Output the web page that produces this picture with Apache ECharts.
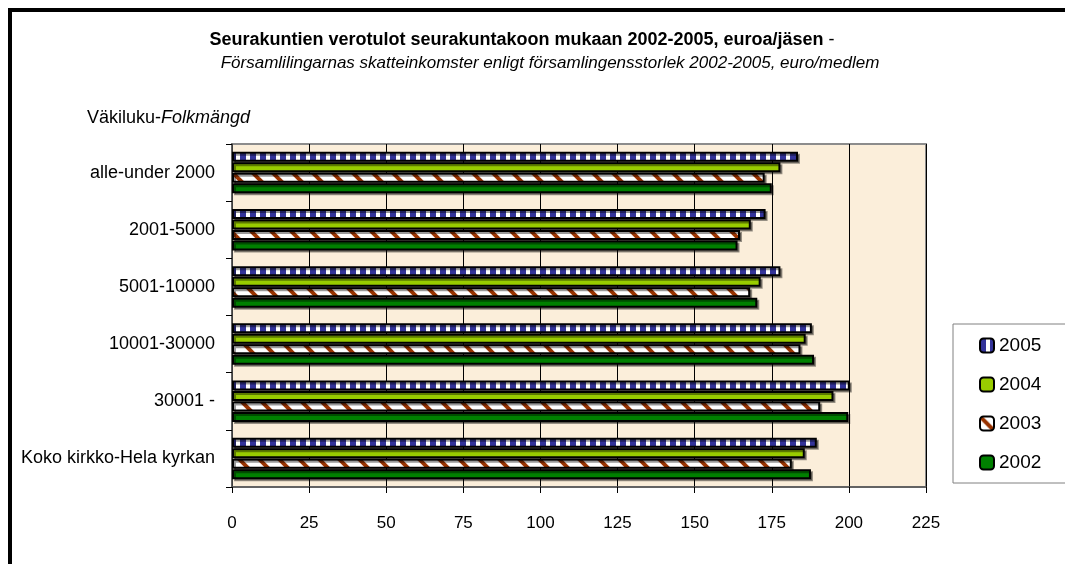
<!DOCTYPE html>
<html>
<head>
<meta charset="utf-8">
<script src="https://cdn.jsdelivr.net/npm/echarts@6/dist/echarts.min.js"></script>
<style>
  html, body { margin: 0; padding: 0; background: #fff; }
  #chart { width: 1065px; height: 564px; }
</style>
</head>
<body>
<div id="chart"></div>
<script>
const categories = ['alle-under 2000', '2001-5000', '5001-10000', '10001-30000', '30001 -', 'Koko kirkko-Hela kyrkan'];
const years = ['2005', '2004', '2003', '2002'];
const v2005 = [183.5, 173, 177.8, 188, 200.3, 189.6];
const v2004 = [177.8, 168.2, 171.4, 186, 195, 185.7];
const v2003 = [172.7, 164.7, 168, 184.3, 190.7, 181.5];
const v2002 = [175, 163.9, 170.3, 188.7, 199.8, 187.7];
const xTicks = { min: 0, max: 225, step: 25 };

// fill patterns like the old excel ones
const bluePattern = () => {
	const c = document.createElement('canvas');
	c.width = 10; c.height = 10;
	const g = c.getContext('2d');
	g.fillStyle = '#ffffff';
	g.fillRect(0, 0, 10, 10);
	g.fillStyle = '#333399';
	g.fillRect(0, 0, 6, 10);
	return c;
};

const brownPattern = () => {
	const c = document.createElement('canvas');
	c.width = 20; c.height = 20;
	const g = c.getContext('2d');
	g.fillStyle = '#ffffff';
	g.fillRect(0, 0, 20, 20);
	g.strokeStyle = '#993300';
	g.lineWidth = 4;
	for (let k = -1; k <= 1; k++) {
		g.beginPath();
		g.moveTo(k * 20 - 5, -5);
		g.lineTo(k * 20 + 25, 25);
		g.stroke();
	}
	return c;
};

const fills = [
	{ image: bluePattern(), repeat: 'repeat' },
	'#99cc00',
	{ image: brownPattern(), repeat: 'repeat' },
	'#008000',
];
const values = [v2005, v2004, v2003, v2002];

const chart = echarts.init(document.getElementById('chart'));

const font = 'Liberation Sans';

const option = {
	backgroundColor: '#ffffff',
	textStyle: { fontFamily: font },
	graphic: [
		{
			type: 'rect',
			shape: { x: 10, y: 10, width: 1200, height: 1000 },
			style: { fill: 'none', stroke: '#000', lineWidth: 4 },
			silent: true,
		},
		{
			type: 'text',
			x: 522,
			y: 40,
			style: {
				text: '{b|Seurakuntien verotulot seurakuntakoon mukaan 2002-2005, euroa/jäsen} -',
				font: '18px ' + font,
				fill: '#000',
				align: 'center',
				verticalAlign: 'middle',
				rich: { b: { fontWeight: 'bold', fontSize: 18, fontFamily: font } },
			},
		},
		{
			type: 'text',
			x: 550,
			y: 63,
			style: {
				text: 'Församlilingarnas skatteinkomster enligt församlingensstorlek 2002-2005, euro/medlem',
				font: 'italic 17px ' + font,
				fill: '#000',
				align: 'center',
				verticalAlign: 'middle',
			},
		},
		{
			type: 'text',
			x: 87,
			y: 118,
			style: {
				text: 'Väkiluku-{i|Folkmängd}',
				font: '18px ' + font,
				fill: '#000',
				verticalAlign: 'middle',
				rich: { i: { fontStyle: 'italic', fontSize: 18, fontFamily: font } },
			},
		},
	],
	legend: {
		data: years,
		orient: 'vertical',
		left: 953,
		top: 324,
		width: 150,
		padding: [12, 40, 11, 26],
		itemGap: 20,
		itemWidth: 14,
		itemHeight: 14,
		backgroundColor: '#ffffff',
		borderColor: '#808080',
		borderWidth: 1,
		borderRadius: 0,
		textStyle: { fontSize: 19, color: '#000', fontFamily: font },
	},
	grid: {
		left: 232,
		top: 144,
		width: 694,
		height: 343,
		show: true,
		backgroundColor: '#fbeeda',
		borderColor: '#8c8c8c',
		borderWidth: 2,
	},
	xAxis: {
		type: 'value',
		min: xTicks.min,
		max: xTicks.max,
		interval: xTicks.step,
		axisLine: { show: true, lineStyle: { color: '#555', width: 1.5 } },
		axisTick: { show: true, length: 6, lineStyle: { color: '#000' } },
		axisLabel: { fontSize: 17, color: '#000', margin: 28 },
		splitLine: { show: true, lineStyle: { color: '#000', width: 1 } },
	},
	yAxis: {
		type: 'category',
		data: categories,
		inverse: true,
		axisLine: { show: true, lineStyle: { color: '#555', width: 1.5 } },
		axisTick: { show: true, length: 6, lineStyle: { color: '#000' } },
		axisLabel: { fontSize: 18, color: '#000', margin: 17 },
	},
	series: years.map((y, i) => ({
		name: y,
		type: 'bar',
		data: values[i],
		barWidth: 10,
		barGap: '5%',
		itemStyle: {
			color: fills[i],
			borderColor: '#000',
			borderWidth: 2,
			shadowColor: 'rgba(0,0,0,0.4)',
			shadowOffsetX: 2,
			shadowOffsetY: 2,
			shadowBlur: 0,
		},
		emphasis: { disabled: true },
	})),
	animation: false,
};

chart.setOption(option);
</script>
</body>
</html>
